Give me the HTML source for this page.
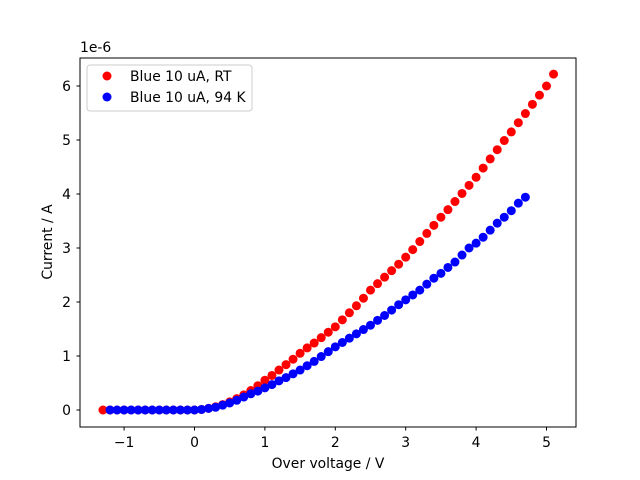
<!DOCTYPE html>
<html><head><meta charset="utf-8"><style>body{margin:0;background:#fff}svg{display:block;font-family:"DejaVu Sans","Liberation Sans",sans-serif}</style></head>
<body>
<svg id="chart" width="640" height="480">
<rect x="80" y="58" width="496" height="369" fill="none" stroke="#000" stroke-width="1"/>
<g id="ticks"></g>
<g id="marks"></g>
<text x="80" y="52" font-size="13.9">1e-6</text>
<text x="328" y="468" font-size="13.9" text-anchor="middle">Over voltage / V</text>
<text transform="translate(52,242) rotate(-90)" font-size="13.9" text-anchor="middle">Current / A</text>
<g>
<rect x="87" y="65" width="165" height="46" rx="3" fill="#fff" fill-opacity="0.8" stroke="#ccc"/>
<circle cx="107" cy="76" r="4.5" fill="red"/>
<text x="130" y="81" font-size="13.9">Blue 10 uA, RT</text>
<circle cx="107" cy="97" r="4.5" fill="blue"/>
<text x="130" y="102" font-size="13.9">Blue 10 uA, 94 K</text>
</g>
</svg>
<script>
const xTicks=[-1,0,1,2,3,4,5];
const yTicks=[0,1,2,3,4,5,6];
const redX=[-1.3,-1.2,-1.1,-1.0,-0.9,-0.8,-0.7,-0.6,-0.5,-0.4,-0.3,-0.2,-0.1,0,0.1,0.2,0.3,0.4,0.5,0.6,0.7,0.8,0.9,1.0,1.1,1.2,1.3,1.4,1.5,1.6,1.7,1.8,1.9,2.0,2.1,2.2,2.3,2.4,2.5,2.6,2.7,2.8,2.9,3.0,3.1,3.2,3.3,3.4,3.5,3.6,3.7,3.8,3.9,4.0,4.1,4.2,4.3,4.4,4.5,4.6,4.7,4.8,4.9,5.0,5.1];
const redY=[0,0,0,0,0,0,0,0,0,0,0,0,0,0,0.01,0.03,0.06,0.1,0.15,0.21,0.28,0.36,0.45,0.55,0.64,0.74,0.84,0.94,1.05,1.15,1.24,1.34,1.44,1.54,1.67,1.8,1.93,2.07,2.22,2.34,2.46,2.58,2.7,2.83,2.97,3.12,3.27,3.42,3.57,3.71,3.86,4.01,4.16,4.31,4.48,4.65,4.82,4.99,5.15,5.32,5.49,5.66,5.83,6.0,6.22];
const blueX=[-1.2,-1.1,-1.0,-0.9,-0.8,-0.7,-0.6,-0.5,-0.4,-0.3,-0.2,-0.1,0,0.1,0.2,0.3,0.4,0.5,0.6,0.7,0.8,0.9,1.0,1.1,1.2,1.3,1.4,1.5,1.6,1.7,1.8,1.9,2.0,2.1,2.2,2.3,2.4,2.5,2.6,2.7,2.8,2.9,3.0,3.1,3.2,3.3,3.4,3.5,3.6,3.7,3.8,3.9,4.0,4.1,4.2,4.3,4.4,4.5,4.6,4.7];
const blueY=[0,0,0,0,0,0,0,0,0,0,0,0,0,0.01,0.03,0.05,0.09,0.13,0.18,0.24,0.3,0.35,0.41,0.47,0.54,0.6,0.67,0.74,0.82,0.9,0.99,1.08,1.17,1.25,1.33,1.41,1.49,1.57,1.66,1.75,1.85,1.95,2.04,2.13,2.22,2.33,2.44,2.53,2.64,2.74,2.87,3.0,3.09,3.2,3.33,3.46,3.57,3.69,3.83,3.94];
const NS='http://www.w3.org/2000/svg';
function sx(v){return 194.5+v*70.4;}
function sy(v){return 410-v*54;}
const tg=document.getElementById('ticks');
xTicks.forEach(t=>{
  const l=document.createElementNS(NS,'line');
  l.setAttribute('x1',sx(t));l.setAttribute('x2',sx(t));l.setAttribute('y1',427);l.setAttribute('y2',430.5);l.setAttribute('stroke','#000');
  
  
  tg.appendChild(l);
  const tx=document.createElementNS(NS,'text');
  tx.setAttribute('x',sx(t));tx.setAttribute('y',447);tx.setAttribute('font-size','13.9');tx.setAttribute('text-anchor','middle');
  tx.textContent=t<0?'\u2212'+Math.abs(t):String(t);
  
  
  tg.appendChild(tx);
});
yTicks.forEach(t=>{
  const l=document.createElementNS(NS,'line');
  l.setAttribute('x1',76.5);l.setAttribute('x2',80);l.setAttribute('y1',sy(t));l.setAttribute('y2',sy(t));l.setAttribute('stroke','#000');
  
  
  tg.appendChild(l);
  const tx=document.createElementNS(NS,'text');
  tx.setAttribute('x',71);tx.setAttribute('y',sy(t)+5);tx.setAttribute('font-size','13.9');tx.setAttribute('text-anchor','end');
  tx.textContent=String(t);
  
  
  tg.appendChild(tx);
});
const mg=document.getElementById('marks');
function draw(xs,ys,color,name){
  xs.forEach((x,i)=>{
    const c=document.createElementNS(NS,'circle');
    c.setAttribute('cx',sx(x));c.setAttribute('cy',sy(ys[i]));c.setAttribute('r',4.5);c.setAttribute('fill',color);
    
    
    mg.appendChild(c);
  });
}
draw(redX,redY,'red','point-rt');
draw(blueX,blueY,'blue','point-94k');
</script>
</body></html>
